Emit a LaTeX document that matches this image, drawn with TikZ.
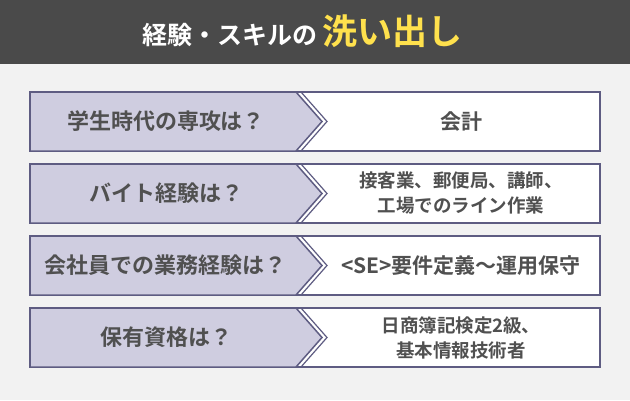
\documentclass[tikz,border=0pt]{standalone}
\usepackage{fontspec}
\setmainfont{Noto Sans CJK JP}[BoldFont={Noto Sans CJK JP Bold}]
\definecolor{barbg}{HTML}{4A4A4A}
\definecolor{pagebg}{HTML}{F2F2F2}
\definecolor{lav}{HTML}{CFCDE0}
\definecolor{edge}{HTML}{5E5C82}
\definecolor{ink}{HTML}{505050}
\definecolor{hilite}{HTML}{FFE14D}
\tikzset{
  qtext/.style={font=\bfseries\fontsize{22}{26}\selectfont, text=ink},
  atext/.style={font=\bfseries\fontsize{21}{26}\selectfont, text=ink, align=center},
  asmall/.style={font=\bfseries\fontsize{18.5}{25}\selectfont, text=ink, align=center},
}
\begin{document}
\begin{tikzpicture}[x=1pt,y=-1pt]
  % Background and title bar
  \fill[pagebg] (0,0) rectangle (630,400);
  \useasboundingbox (0,0) rectangle (630,400);
  \fill[barbg] (0,0) rectangle (630,64);
  \node[anchor=base east, inner sep=2pt, text=white, font=\bfseries\fontsize{25}{28}\selectfont] (ttl) at (320,44) {経験・スキルの};
  \node[anchor=base west, inner sep=2pt, text=hilite, font=\bfseries\fontsize{35}{38}\selectfont] (ttlb) at (ttl.base east) {洗い出し};

  % Rows
  \foreach \i/\q/\a/\st in {0/学生時代の専攻は？/会計/atext,
      1/バイト経験は？/{接客業、郵便局、講師、\\工場でのライン作業}/asmall,
      2/会社員での業務経験は？/{<SE>要件定義〜運用保守}/atext,
      3/保有資格は？/{日商簿記検定2級、\\基本情報技術者}/asmall} {
    \pgfmathsetmacro{\top}{92+72*\i}
    \pgfmathsetmacro{\bot}{\top+59}
    \pgfmathsetmacro{\mid}{\top+29.5}
    \filldraw[fill=white, draw=edge, line width=1.5pt] (30,\top) rectangle (600,\bot);
    \filldraw[fill=lav, draw=edge, line width=1.5pt] (30,\top) -- (296,\top) -- (322,\mid) -- (296,\bot) -- (30,\bot) -- cycle;
    \draw[edge, line width=1.2pt] (301,\top) -- (327,\mid) -- (301,\bot);
    \node[qtext] (q\i) at (166,\mid) {\q};
    \node[\st] (a\i) at (461,\mid) {\a};
  }
\end{tikzpicture}
\end{document}
